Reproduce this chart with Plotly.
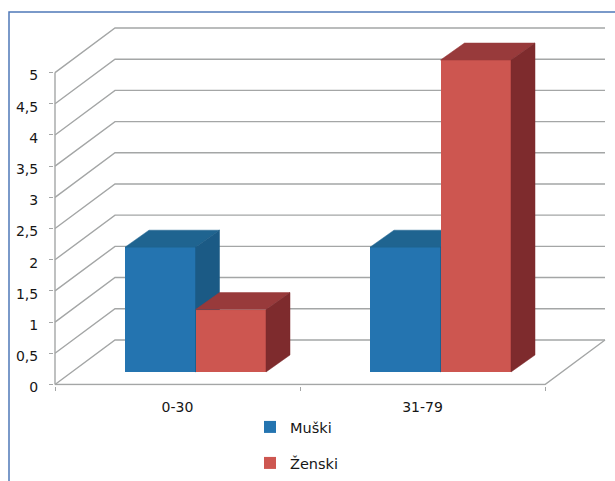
import plotly.graph_objects as go

# Data
categories = ["0-30", "31-79"]
muski = [2, 2]
zenski = [1, 5]
y_ticks = [0, 0.5, 1, 1.5, 2, 2.5, 3, 3.5, 4, 4.5, 5]
y_labels = ["0", "0,5", "1", "1,5", "2", "2,5", "3", "3,5", "4", "4,5", "5"]

# Canvas
W, H = 615, 481
FX0, FX1, FY0, FY1 = 55, 545, 384.5, 73      # front plane of the box
BX0, BX1, BY0, BY1 = 115, 605, 340, 28       # back wall of the box
UX = (FX1 - FX0) / 2
UY = (FY0 - FY1) / 5
BOX_DX = (BX0 - FX0) / UX                    # box depth in axis units
BOX_DY = (FY0 - BY0) / UY
BAR_W = 70.5 / UX
BAR_SHIFT = 18 / UX                          # bars stand slightly inside the floor
BAR_BASE = 12.5 / UY
BAR_DX = 24 / UX                             # bar depth in axis units
BAR_DY = 17 / UY
PAD_L, PAD_B, PAD_R, PAD_T = 1, 1, 2, 3      # room so edge lines are not clipped

GRID = "#a4a6a6"
TEXT = "#161616"
FONT = "DejaVu Sans"
LINE_W = 1.4

fig = go.Figure()


def wall_line(xs, ys):
    fig.add_trace(go.Scatter(
        x=xs, y=ys, mode="lines", line=dict(color=GRID, width=LINE_W),
        hoverinfo="skip", showlegend=False, xaxis="x", yaxis="y",
    ))


def face(xs, ys, color, ax):
    fig.add_trace(go.Scatter(
        x=xs, y=ys, mode="lines", fill="toself", fillcolor=color,
        line=dict(width=0.5, color=color), hoverinfo="skip",
        showlegend=False, xaxis=f"x{ax}", yaxis=f"y{ax}",
    ))


def bar_series(name, values, left_edge, front, top, side, ax, legend):
    xs = [i + BAR_SHIFT + left_edge for i in range(len(values))]
    fig.add_trace(go.Bar(
        x=[x + BAR_W / 2 for x in xs], y=values, base=[BAR_BASE] * len(values),
        width=BAR_W, name=name, marker=dict(color=front, line=dict(width=0)),
        xaxis=f"x{ax}", yaxis=f"y{ax}", legend=legend, showlegend=True,
    ))
    for x, v in zip(xs, values):
        yt = BAR_BASE + v
        face([x, x + BAR_DX, x + BAR_W + BAR_DX, x + BAR_W, x],
             [yt, yt + BAR_DY, yt + BAR_DY, yt, yt], top, ax)
        face([x + BAR_W, x + BAR_W + BAR_DX, x + BAR_W + BAR_DX, x + BAR_W, x + BAR_W],
             [BAR_BASE, BAR_BASE + BAR_DY, yt + BAR_DY, yt, BAR_BASE], side, ax)


# Gridlines: slanted along the side wall, then straight across the back wall
for v in y_ticks:
    wall_line([-0.5, -0.5 + BOX_DX, 1.5 + BOX_DX], [v, v + BOX_DY, v + BOX_DY])
# Floor edges and the vertical value axis
wall_line([-0.5, 1.5, 1.5 + BOX_DX], [0, 0, BOX_DY])
wall_line([-0.5, -0.5], [0, 5])

# Each series has its own overlaid subplot so later bars paint over earlier ones
bar_series("Muški", muski, -BAR_W, "#2474b0", "#1f6490", "#1b5a85", 2, "legend")
bar_series("Ženski", zenski, 0, "#cd5650", "#983a3b", "#7e2b2d", 3, "legend2")

x_range = [-0.5 - PAD_L / UX, 1.5 + BOX_DX + PAD_R / UX]
y_range = [-PAD_B / UY, 5 + BOX_DY + PAD_T / UY]
dom_x = [(FX0 - PAD_L) / W, (BX1 + PAD_R) / W]
dom_y = [(H - FY0 - PAD_B) / H, (H - BY1 + PAD_T) / H]

hidden = dict(domain=dom_x, range=x_range, visible=False, automargin=False)
hidden_y = dict(domain=dom_y, range=y_range, visible=False, automargin=False)
legend_style = dict(xanchor="left", yanchor="middle", bgcolor="rgba(0,0,0,0)",
                    tracegroupgap=0, font=dict(family=FONT, size=14.5, color=TEXT))

fig.update_layout(
    width=W, height=H, margin=dict(l=0, r=0, t=0, b=0), autosize=False,
    paper_bgcolor="white", plot_bgcolor="rgba(0,0,0,0)",
    font=dict(family=FONT, size=14, color=TEXT),
    bargap=0,
    xaxis=dict(domain=dom_x, range=x_range, showgrid=False, zeroline=False,
               automargin=False,
               showline=False, tickmode="array", tickvals=[0, 1], ticktext=categories,
               ticks="", ticklabelstandoff=11,
               tickfont=dict(family=FONT, size=14, color=TEXT),
               minor=dict(tickmode="array", tickvals=[-0.5, 0.5, 1.5],
                          ticks="outside", ticklen=4, tickcolor=GRID, tickwidth=LINE_W)),
    yaxis=dict(domain=dom_y, range=y_range, showgrid=False, zeroline=False,
               automargin=False,
               showline=False, tickmode="array", tickvals=y_ticks, ticktext=y_labels,
               ticks="outside", ticklen=4, tickcolor=GRID, tickwidth=LINE_W,
               ticklabelstandoff=8, ticklabelshift=3,
               tickfont=dict(family=FONT, size=14, color=TEXT)),
    xaxis2={**hidden, "anchor": "y2"}, yaxis2={**hidden_y, "anchor": "x2"},
    xaxis3={**hidden, "anchor": "y3"}, yaxis3={**hidden_y, "anchor": "x3"},
    legend=dict(x=250 / W, y=(H - 427) / H, **legend_style),
    legend2=dict(x=250 / W, y=(H - 463) / H, **legend_style),
    # Blue frame along the left and top edges
    shapes=[dict(type="path", xref="paper", yref="paper",
                 path=f"M {9 / W},0 L {9 / W},{(H - 12) / H} L 1,{(H - 12) / H}",
                 line=dict(color="#4f78b8", width=1.5))],
)

fig.write_html("out.html")
